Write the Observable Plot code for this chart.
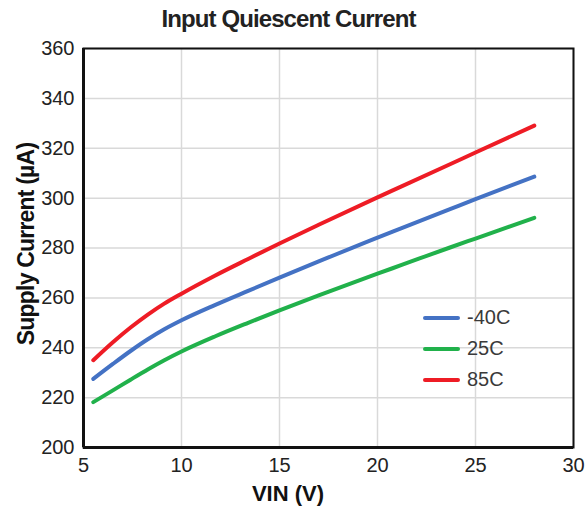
<!DOCTYPE html>
<html>
<head>
<meta charset="utf-8">
<script src="https://cdn.jsdelivr.net/npm/d3@7"></script>
<script src="https://cdn.jsdelivr.net/npm/@observablehq/plot@0.6"></script>
<style>
  html, body { margin: 0; padding: 0; background: #fff; }
  #wrap { position: relative; width: 587px; height: 512px; font-family: "Liberation Sans", Arial, sans-serif; }
  #title { height: 38px; line-height: 38px; text-align: center; font-weight: bold; font-size: 24px; letter-spacing: -0.9px; color: #222; padding-right: 10px; }
  #ylabel { position: absolute; left: 26px; top: 244px; transform: translate(-50%, -50%) rotate(-90deg); white-space: nowrap; font-weight: bold; font-size: 23px; letter-spacing: -0.8px; color: #111; line-height: 23px; }
  #xlabel { position: absolute; left: 288px; top: 494px; transform: translate(-50%, -50%); white-space: nowrap; font-weight: bold; font-size: 22px; color: #111; line-height: 22px; }
  #legend { position: absolute; left: 423px; top: 302px; font-size: 20px; color: #3a3a3a; }
  .lrow { display: flex; align-items: center; height: 31px; }
  .lsw { width: 37px; height: 4px; border-radius: 2px; margin-right: 7px; }
</style>
</head>
<body>
<div id="wrap">
  <div id="title">Input Quiescent Current</div>
  <div id="chart"></div>
  <div id="ylabel">Supply Current (µA)</div>
  <div id="xlabel">VIN (V)</div>
  <div id="legend"></div>
</div>
<script>
const seriesNames = ["-40C", "25C", "85C"];
const seriesColors = ["#4472C4", "#21B14B", "#EE1C25"];
const xTicks = [5, 10, 15, 20, 25, 30];
const yTicks = [200, 220, 240, 260, 280, 300, 320, 340, 360];

const vin = [5.5, 6.5, 7.4, 8.3, 9.1, 10, 11.7, 13.4, 15, 17, 20, 21.2, 23.7, 25, 28];
const currentM40 = [227.5, 233.5, 238.7, 243.5, 247.3, 251.0, 257.1, 262.8, 268.1, 274.6, 284.2, 287.9, 295.6, 299.6, 308.6];
const current25 = [218.2, 222.9, 227.2, 231.4, 234.9, 238.5, 244.5, 250.0, 255.0, 261.0, 269.7, 273.1, 280.2, 283.8, 292.1];
const current85 = [235.0, 242.2, 248.1, 253.4, 257.6, 261.7, 268.9, 275.6, 281.8, 289.3, 300.3, 304.6, 313.6, 318.3, 329.1];

const seriesValues = [currentM40, current25, current85];
const data = [];
seriesNames.forEach((s, k) => vin.forEach((v, i) => data.push({series: s, vin: v, current: seriesValues[k][i]})));

const chart = Plot.plot({
  width: 587,
  height: 474,
  marginLeft: 83,
  marginRight: 14,
  marginTop: 10,
  marginBottom: 65,
  style: { fontFamily: "'Liberation Sans', Arial, sans-serif", fontSize: "20px", color: "#222", background: "#fff", overflow: "visible" },
  x: { domain: [5, 30] },
  y: { domain: [200, 360] },
  color: { domain: seriesNames, range: seriesColors },
  marks: [
    Plot.gridX(xTicks, { stroke: "#d9d9d9", strokeOpacity: 1, strokeWidth: 1.5 }),
    Plot.gridY(yTicks, { stroke: "#d9d9d9", strokeOpacity: 1, strokeWidth: 1.5 }),
    Plot.axisX(xTicks, { tickSize: 0, tickPadding: 10, label: null, fontSize: 20 }),
    Plot.axisY(yTicks, { tickSize: 0, tickPadding: 9, label: null, fontSize: 20 }),
    Plot.line(data, { x: "vin", y: "current", z: "series", stroke: "series", curve: "monotone-x", strokeWidth: 4, strokeLinecap: "round", strokeLinejoin: "round" }),
    Plot.frame({ stroke: "#111", strokeWidth: 2 }),
    Plot.ruleX([5], { stroke: "#111", strokeWidth: 3 }),
    Plot.ruleY([200], { stroke: "#111", strokeWidth: 3 })
  ]
});
document.getElementById("chart").appendChild(chart);

const legend = document.getElementById("legend");
seriesNames.forEach((s, k) => {
  const row = document.createElement("div");
  row.className = "lrow";
  const sw = document.createElement("div");
  sw.className = "lsw";
  sw.style.background = seriesColors[k];
  const t = document.createElement("span");
  t.textContent = s;
  row.appendChild(sw);
  row.appendChild(t);
  legend.appendChild(row);
});
</script>
</body>
</html>
